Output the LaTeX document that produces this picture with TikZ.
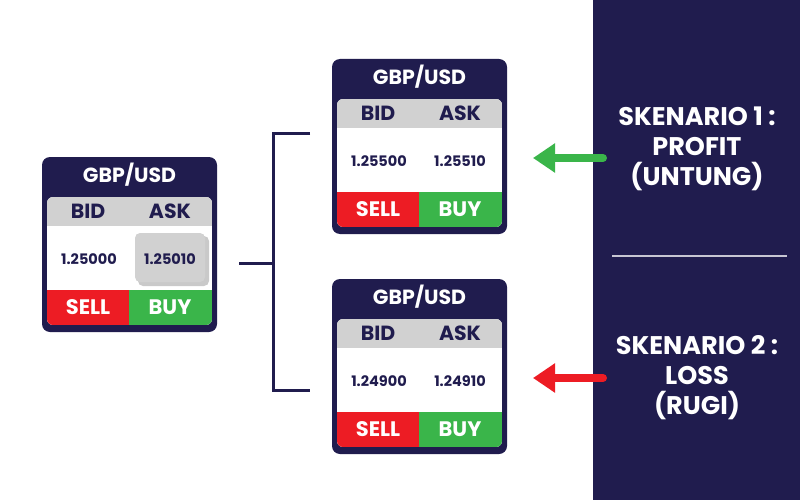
\documentclass[tikz,border=0pt]{standalone}
\usepackage{fontspec}
\setmainfont{Poppins}
\usetikzlibrary{arrows.meta}

\definecolor{navy}{HTML}{201C4E}
\definecolor{sellred}{HTML}{ED1C24}
\definecolor{buygreen}{HTML}{3AB54A}
\definecolor{headgray}{HTML}{D1D1D1}

\begin{document}
\begin{tikzpicture}[x=1pt,y=-1pt,
  title/.style={text=white,inner sep=0,text height=0.7em,text depth=0pt,font=\bfseries\fontsize{20.5}{20.5}\selectfont},
  colhead/.style={text=navy,inner sep=0,text height=0.7em,text depth=0pt,font=\bfseries\fontsize{20.5}{20.5}\selectfont},
  price/.style={text=navy,inner sep=0,text height=0.7em,text depth=0pt,font=\bfseries\fontsize{14.5}{14.5}\selectfont},
  btn/.style={text=white,inner sep=0,text height=0.7em,text depth=0pt,font=\bfseries\fontsize{21}{21}\selectfont},
  scen/.style={text=white,align=center,inner sep=0,font=\bfseries\fontsize{25.5}{30}\selectfont},
  bracket/.style={navy,line width=3pt},
  move/.style={line width=8pt,line cap=round,-{Triangle[length=22pt,width=28pt]}}]
\useasboundingbox (0,0) rectangle (800,500);
\fill[white] (0,0) rectangle (800,500);
\fill[navy] (593,0) rectangle (800,500);

% starting quote
\begin{scope}
\fill[navy,rounded corners=8] (42,157) rectangle (217,332);
\begin{scope}
\clip[rounded corners=6] (47,197) rectangle (212,325);
\fill[white] (47,197) rectangle (212,325);
\fill[headgray] (47,197) rectangle (212,226);
\fill[sellred] (47,290) rectangle (129,325);
\fill[buygreen] (129,290) rectangle (212,325);
\end{scope}
\fill[black!35,opacity=0.6,rounded corners=5] (138,236) rectangle (209,286);
\fill[headgray,rounded corners=5] (135,233) rectangle (205,282);
\node[title] (t0) at (129.5,179) {GBP/USD};
\node[colhead] (bid0) at (88,215) {BID};
\node[colhead] (ask0) at (170,215) {ASK};
\node[price] (pb0) at (89,261) {1.25000};
\node[price] (pa0) at (170,261) {1.25010};
\node[btn] (sell0) at (88,311) {SELL};
\node[btn] (buy0) at (170,311) {BUY};
\end{scope}

% scenario 1
\begin{scope}[shift={(290,-98)}]
\fill[navy,rounded corners=8] (42,157) rectangle (217,332);
\begin{scope}
\clip[rounded corners=6] (47,197) rectangle (212,325);
\fill[white] (47,197) rectangle (212,325);
\fill[headgray] (47,197) rectangle (212,226);
\fill[sellred] (47,290) rectangle (129,325);
\fill[buygreen] (129,290) rectangle (212,325);
\end{scope}
\node[title] (t1) at (129.5,179) {GBP/USD};
\node[colhead] (bid1) at (88,215) {BID};
\node[colhead] (ask1) at (170,215) {ASK};
\node[price] (pb1) at (89,261) {1.25500};
\node[price] (pa1) at (170,261) {1.25510};
\node[btn] (sell1) at (88,311) {SELL};
\node[btn] (buy1) at (170,311) {BUY};
\end{scope}

% scenario 2
\begin{scope}[shift={(290,122)}]
\fill[navy,rounded corners=8] (42,157) rectangle (217,332);
\begin{scope}
\clip[rounded corners=6] (47,197) rectangle (212,325);
\fill[white] (47,197) rectangle (212,325);
\fill[headgray] (47,197) rectangle (212,226);
\fill[sellred] (47,290) rectangle (129,325);
\fill[buygreen] (129,290) rectangle (212,325);
\end{scope}
\node[title] (t2) at (129.5,179) {GBP/USD};
\node[colhead] (bid2) at (88,215) {BID};
\node[colhead] (ask2) at (170,215) {ASK};
\node[price] (pb2) at (89,261) {1.24900};
\node[price] (pa2) at (170,261) {1.24910};
\node[btn] (sell2) at (88,311) {SELL};
\node[btn] (buy2) at (170,311) {BUY};
\end{scope}

% bracket
\coordinate (stub) at (239,263);
\coordinate (mid) at (273,263);
\coordinate (up) at (310,134);
\coordinate (down) at (310,390);
\draw[bracket] (up) -- (up -| mid) -- (down -| mid) -- (down);
\draw[bracket] (stub) -- (mid);

% scenarios
\node[scen] (sc1) at (697,149) {SKENARIO 1 :\\PROFIT\\(UNTUNG)};
\node[scen] (sc2) at (697,378) {SKENARIO 2 :\\LOSS\\(RUGI)};
\draw[white!75!navy,line width=1.5pt] (612,256) -- (787,256);

\coordinate (g0) at (603,158);
\coordinate (g1) at (533,158);
\coordinate (r0) at (603,378);
\coordinate (r1) at (533,378);
\draw[move,buygreen] (g0) -- (g1);
\draw[move,sellred] (r0) -- (r1);
\end{tikzpicture}
\end{document}
